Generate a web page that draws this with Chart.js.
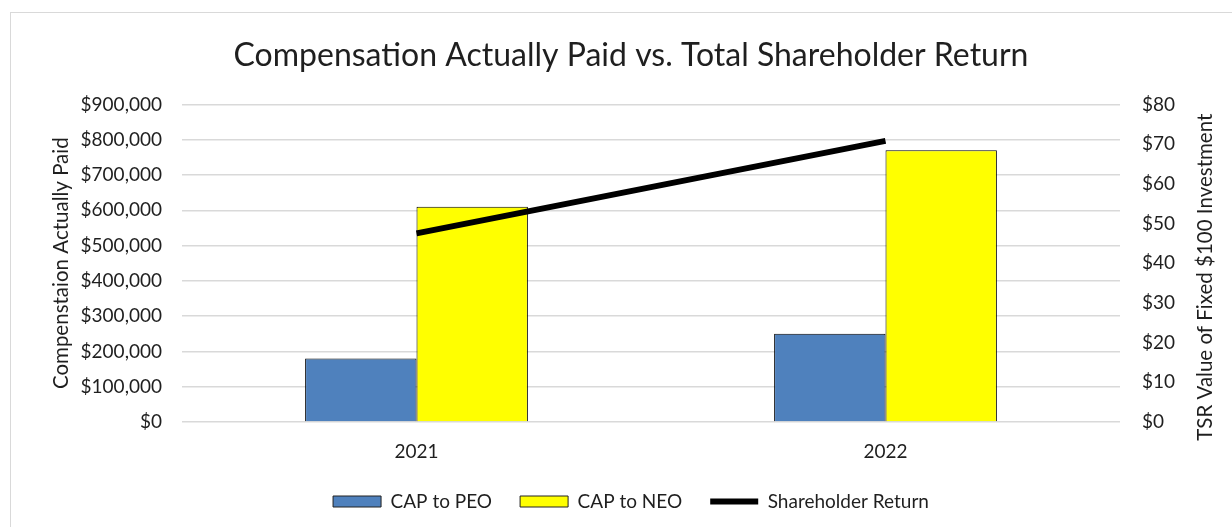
<!DOCTYPE html>
<html>
  <head>
    <meta charset="UTF-8" />
    <script src="https://cdn.jsdelivr.net/npm/chart.js"></script>
  </head>
  <style>
    body {
      margin: 0;
      background: #ffffff;
    }
    .frame {
      position: absolute;
      left: 10px;
      top: 12px;
      width: 1240px;
      height: 540px;
      border: 1.5px solid #d9d9d9;
    }
    .wrap {
      position: absolute;
      left: 0;
      top: 0;
      width: 1232px;
      height: 527px;
    }
  </style>
  <body>
    <div class="frame"></div>
    <div class="wrap"><canvas id="chartCap"></canvas></div>
    <script>
      const years = ["2021", "2022"];
      const capPeo = [180000, 250000];
      const capNeo = [610000, 770000];
      const tsr = [47.5, 70.8];

      const font = "Lato";
      const textColor = "#1f1f1f";
      const rightTitle = "TSR Value of Fixed $100 Investment";

      const money = (v) => "$" + v.toLocaleString("en-US");

      // right axis title reads bottom-to-top like the left one
      const rightTitlePlugin = {
        id: "rightTitle",
        afterDraw: (chart) => {
          const s = chart.scales.yTsr;
          const ctx = chart.ctx;
          ctx.save();
          ctx.translate(s.right - 12, (s.top + s.bottom) / 2 + 14);
          ctx.rotate(-Math.PI / 2);
          ctx.font = "20.5px " + font;
          ctx.fillStyle = textColor;
          ctx.textAlign = "center";
          ctx.textBaseline = "middle";
          ctx.fillText(rightTitle, 0, 0);
          ctx.restore();
        },
      };

      const chartData = {
        labels: years,
        datasets: [
          {
            type: "line",
            label: "Shareholder Return",
            data: tsr,
            yAxisID: "yTsr",
            borderColor: "#000000",
            backgroundColor: "#000000",
            borderWidth: 6,
            pointRadius: 0,
            order: 0,
          },
          {
            label: "CAP to PEO",
            data: capPeo,
            yAxisID: "yCap",
            backgroundColor: "#4f81bd",
            borderColor: "#000000",
            borderWidth: 1,
            order: 1,
          },
          {
            label: "CAP to NEO",
            data: capNeo,
            yAxisID: "yCap",
            backgroundColor: "#ffff00",
            borderColor: "#000000",
            borderWidth: 1,
            order: 1,
          },
        ],
      };

      const configCapChart = {
        type: "bar",
        data: chartData,
        plugins: [rightTitlePlugin],
        options: {
          responsive: true,
          maintainAspectRatio: false,
          animation: false,
          categoryPercentage: 0.475,
          barPercentage: 1,
          layout: { padding: { left: 45, right: 15, top: 10, bottom: 6 } },
          plugins: {
            title: {
              display: true,
              text: "Compensation Actually Paid vs. Total Shareholder Return",
              color: textColor,
              font: { family: font, size: 32, weight: "normal" },
              padding: { top: 26, bottom: 30 },
            },
            legend: {
              position: "bottom",
              labels: {
                color: textColor,
                font: { family: font, size: 19 },
                usePointStyle: true,
                pointStyleWidth: 48,
                boxHeight: 11,
                padding: 28,
                generateLabels: (chart) => {
                  const order = [1, 2, 0];
                  return order.map((i) => {
                    const ds = chart.data.datasets[i];
                    return {
                      text: ds.label,
                      datasetIndex: i,
                      fillStyle: ds.backgroundColor,
                      strokeStyle: ds.type === "line" ? "#000000" : "#222222",
                      lineWidth: ds.type === "line" ? 6 : 1,
                      pointStyle: ds.type === "line" ? "line" : "rect",
                      fontColor: textColor,
                    };
                  });
                },
              },
            },
            tooltip: { enabled: false },
          },
          scales: {
            x: {
              grid: { display: false },
              border: { display: false },
              ticks: {
                color: textColor,
                font: { family: font, size: 19 },
                padding: 10,
              },
              afterFit: (scale) => {
                scale.height = 42;
              },
            },
            yCap: {
              position: "left",
              min: 0,
              max: 900000,
              grid: { color: "#d9d9d9", lineWidth: 1.5, drawTicks: false },
              border: { display: false },
              ticks: {
                stepSize: 100000,
                color: textColor,
                font: { family: font, size: 19 },
                padding: 20,
                callback: (v) => money(v),
              },
              title: {
                display: true,
                text: "Compenstaion Actually Paid",
                color: textColor,
                font: { family: font, size: 20.5 },
              },
              afterFit: (scale) => {
                scale.width = 137;
              },
            },
            yTsr: {
              position: "right",
              min: 0,
              max: 80,
              grid: { display: false, drawTicks: false },
              border: { display: false },
              ticks: {
                stepSize: 10,
                color: textColor,
                font: { family: font, size: 19 },
                padding: 22,
                callback: (v) => "$" + v,
              },
              afterFit: (scale) => {
                scale.width = 97;
              },
            },
          },
        },
      };

      var chartCap = new Chart(
        document.getElementById("chartCap"),
        configCapChart
      );
    </script>
  </body>
</html>
